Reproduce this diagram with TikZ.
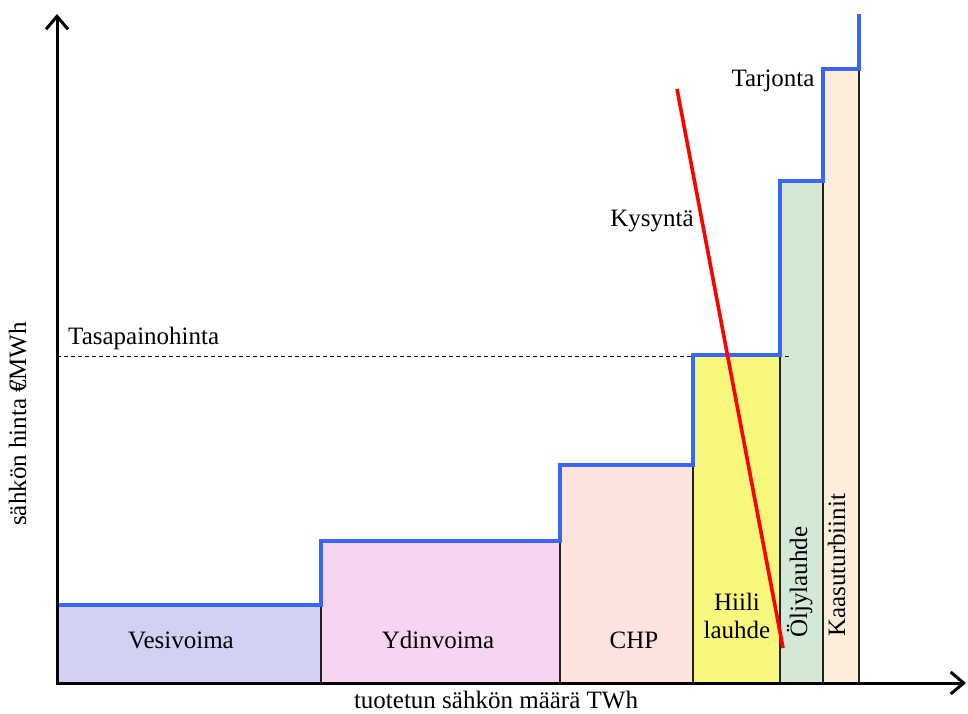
\documentclass[tikz,border=0pt]{standalone}
\usepackage{fontspec}
\setmainfont{Liberation Serif}
\usetikzlibrary{arrows.meta}
\definecolor{cVesi}{HTML}{D0D1F5}
\definecolor{cYdin}{HTML}{F7D5F1}
\definecolor{cChp}{HTML}{FCE3DD}
\definecolor{cHiili}{HTML}{F7F77E}
\definecolor{cOljy}{HTML}{D3E8D5}
\definecolor{cKaasu}{HTML}{FDEEDC}
\definecolor{cSupply}{HTML}{3A66F5}
\definecolor{cBorder}{HTML}{222222}
\tikzset{
  bar/.style={draw=cBorder, line width=1.1pt},
  supply/.style={draw=cSupply, line width=4.5pt, line join=miter},
  demand/.style={draw=red, line width=3.6pt},
  axis/.style={draw=black, line width=3pt, -{Straight Barb[length=13pt,width=22pt,line width=3pt]}},
  lbl/.style={font=\fontsize{25}{28}\selectfont, inner sep=0pt},
}
\begin{document}
\begin{tikzpicture}[x=1pt,y=-1pt]
\useasboundingbox (0,0) rectangle (968,713);
% bars
\fill[cVesi]  (57,605) rectangle (321,683);
\fill[cYdin]  (321,541) rectangle (560,683);
\fill[cChp]   (560,465) rectangle (693,683);
\fill[cHiili] (693,355) rectangle (780,683);
\fill[cOljy]  (780,181) rectangle (823,683);
\fill[cKaasu] (823,69) rectangle (859,683);
\draw[bar] (321,541) -- (321,683);
\draw[bar] (560,465) -- (560,683);
\draw[bar] (693,355) -- (693,683);
\draw[bar] (780,181) -- (780,683);
\draw[bar] (823,69) -- (823,683);
\draw[bar] (859,69) -- (859,683);
% equilibrium price
\draw[black, line width=0.8pt, dash pattern=on 4pt off 3pt] (57,356) -- (790,356);
% supply curve
\draw[supply] (57,605) -- (321,605) -- (321,541) -- (560,541) -- (560,465)
  -- (693,465) -- (693,355) -- (780,355) -- (780,181) -- (823,181)
  -- (823,69) -- (859,69) -- (859,14);
% demand curve
\coordinate (dTop) at (677,89);
\coordinate (dBot) at (783,648);
\draw[demand] (dTop) -- (dBot);
% axes
\coordinate (origin) at (57,683);
\coordinate (yEnd) at (57,14);
\coordinate (xEnd) at (966,683);
\draw[axis] (57,684.5) -- (yEnd);
\draw[axis] (55.5,683) -- (xEnd);
% labels
\node[lbl, anchor=base] (vesi) at (181,648) {Vesivoima};
\node[lbl, anchor=base] (ydin) at (438,648) {Ydinvoima};
\node[lbl, anchor=base] (chp) at (634,648) {CHP};
\node[lbl, anchor=base] (hiili1) at (737,610) {Hiili};
\node[lbl, anchor=base] (hiili2) at (737,638) {lauhde};
\node[lbl, rotate=90, anchor=base west] (oljy) at (807,638) {Öljylauhde};
\node[lbl, rotate=90, anchor=base west] (kaasu) at (845,637) {Kaasuturbiinit};
\node[lbl, anchor=base west] (tasa) at (68,344) {Tasapainohinta};
\node[lbl, anchor=base] (kys) at (652,226) {Kysyntä};
\node[lbl, anchor=base] (tarj) at (773,86) {Tarjonta};
\node[lbl, anchor=base] (xlab) at (496,708) {tuotetun sähkön määrä TWh};
\node[lbl, rotate=90, anchor=base] (ylab) at (26,424) {sähkön hinta €\kern-0.3em/MWh};
\end{tikzpicture}
\end{document}
